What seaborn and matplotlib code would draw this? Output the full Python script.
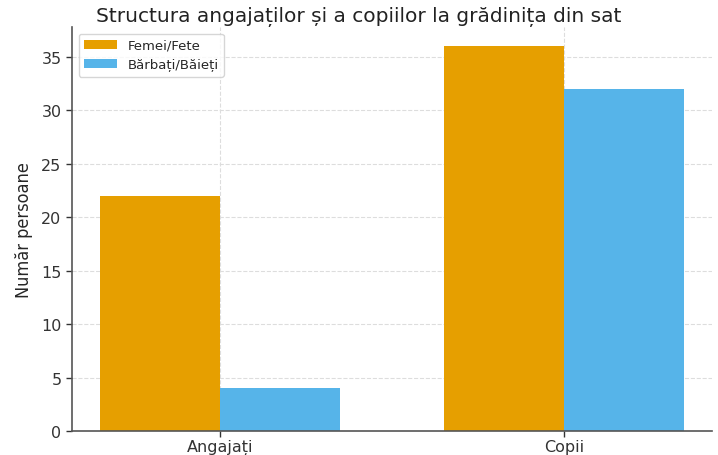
import matplotlib
matplotlib.use("Agg")
import matplotlib.pyplot as plt
import seaborn as sns
import pandas as pd

categories = ["Angajați", "Copii"]
series_names = ["Femei/Fete", "Bărbați/Băieți"]
femei = [22, 36]
barbati = [4, 32]
colors = ["#E69F00", "#56B4E9"]
title = "Structura angajaților și a copiilor la grădinița din sat"

df = pd.DataFrame({
    "Categorie": categories * 2,
    "Gen": [series_names[0]] * 2 + [series_names[1]] * 2,
    "Valoare": femei + barbati,
})

sns.set_theme(style="whitegrid")
plt.rcParams["font.family"] = ["DejaVu Sans"]

fig = plt.figure(figsize=(7.18, 4.56), dpi=100)
ax = fig.add_axes([72 / 718, 1 - 432 / 456, 640 / 718, 404 / 456])

sns.barplot(data=df, x="Categorie", y="Valoare", hue="Gen", palette=colors,
            width=0.7, ax=ax, saturation=1, edgecolor="none")

ax.set_xlim(-0.43, 1.43)
ax.set_ylim(0, 37.8)
ax.set_xlabel("")
ax.set_ylabel("Număr persoane", fontsize=13, fontstretch="condensed", labelpad=6)
ax.set_yticks([0, 5, 10, 15, 20, 25, 30, 35])
ax.tick_params(axis="both", labelsize=11.5, colors="#333333", length=4, width=1,
               left=True, bottom=True)
ax.tick_params(axis="x", pad=2)
ax.grid(True, linestyle="--", color="#dddddd", linewidth=0.8)
ax.set_axisbelow(True)
for s in ["top", "right"]:
    ax.spines[s].set_visible(False)
for s in ["left", "bottom"]:
    ax.spines[s].set_color("#555555")
    ax.spines[s].set_linewidth(1.2)

fig.text(0.5, 0.985, title, fontsize=14.5, color="#222222", ha="center", va="top")

leg = ax.legend(loc="upper left", fontsize=9.5, frameon=True, title=None,
                handlelength=2.5, borderaxespad=0.5)
leg.get_frame().set_edgecolor("#cccccc")

fig.savefig("out.png", dpi=100)
